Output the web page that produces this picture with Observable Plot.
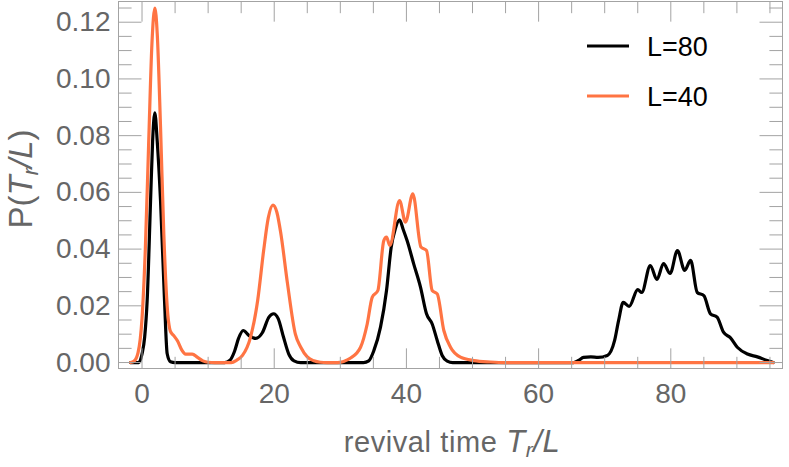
<!DOCTYPE html>
<html><head><meta charset="utf-8">
<script src="https://cdn.jsdelivr.net/npm/d3@7"></script>
<script src="https://cdn.jsdelivr.net/npm/@observablehq/plot@0.6"></script>
<style>body{margin:0;background:#fff;}</style>
</head><body><div id="chart"></div>
<script>
// ---- data ----
const seriesNames = ["L=80", "L=40"];
const seriesColors = ["#000000", "#ff7443"];

const x80 = [-1.75, -0.5, 0, 0.4, 0.78, 1.29, 1.6, 1.94, 2.3, 2.8, 3.4, 3.8, 4.3, 5,
  12.5, 13.3, 14, 14.6, 15.3, 16.2, 17.2, 18.2, 19.2, 19.9, 20.6, 21.4, 22.2, 23, 24,
  33.5, 34.3, 35.07, 36.08, 36.99, 37.7, 38.3, 38.96, 39.5, 40.1, 41.1, 42.13, 43.04, 43.9, 44.66, 45.41, 46.17, 47,
  65.3, 66.1, 66.8, 67.9, 69, 70.4, 71.5, 72.1, 72.8, 73.7, 75, 75.6, 76.9, 77.9, 78.9, 79.9, 81, 82.1, 83, 84, 85, 86, 87, 88, 89, 90.1, 91.6, 93.1, 94.6, 95.5];
const p80 = [0, 0, 0.003, 0.009, 0.022, 0.057, 0.078, 0.088, 0.078, 0.057, 0.022, 0.0032, 0.0003, 0,
  0, 0.0008, 0.004, 0.0085, 0.0113, 0.0095, 0.0085, 0.0105, 0.016, 0.0172, 0.0155, 0.009, 0.003, 0.0006, 0,
  0, 0.0006, 0.0042, 0.0125, 0.0254, 0.0407, 0.047, 0.0503, 0.047, 0.043, 0.0348, 0.0266, 0.0172, 0.0136, 0.0078, 0.0025, 0.0005, 0,
  0, 0.0008, 0.0018, 0.002, 0.0018, 0.0025, 0.0078, 0.0148, 0.0212, 0.0198, 0.0257, 0.0247, 0.0342, 0.0293, 0.0349, 0.0314, 0.0395, 0.0325, 0.036, 0.0247, 0.0236, 0.0172, 0.016, 0.0106, 0.0088, 0.0053, 0.003, 0.002, 0.0007, 0];

const x40 = [-1.75, -1.2, -0.6, 0, 0.5, 1.0, 1.5, 1.94, 2.3, 2.8, 3.3, 3.8, 4.3, 4.8, 5.4, 6, 6.6, 7.6, 8.4, 9.2, 10, 11,
  13.5, 14.3, 15.2, 16.4, 17.5, 18.4, 19.1, 19.8, 20.4, 21, 22, 23.2, 24, 25, 26, 27, 28,
  29.5, 30.5, 31.5, 33.06, 34.07, 34.82, 35.68, 36.58, 36.99, 37.49, 38.96, 39.86, 40.97, 42.2, 43.04, 43.9, 44.66, 45.66, 46.67, 48.18, 50.2, 52.7, 55, 95.5];
const p40 = [0, 0.0005, 0.0035, 0.0156, 0.040, 0.077, 0.1125, 0.125, 0.116, 0.083, 0.045, 0.02, 0.011, 0.0095, 0.0075, 0.0045, 0.003, 0.003, 0.0018, 0.0006, 0.0001, 0,
  0, 0.0008, 0.0025, 0.0088, 0.022, 0.0395, 0.051, 0.0555, 0.053, 0.0455, 0.028, 0.010, 0.0055, 0.002, 0.0006, 0.0001, 0,
  0, 0.0004, 0.0015, 0.0054, 0.0136, 0.023, 0.0254, 0.043, 0.0442, 0.0413, 0.0571, 0.0495, 0.0595, 0.0407, 0.0395, 0.0254, 0.0242, 0.0113, 0.0054, 0.0019, 0.0007, 0.0002, 0, 0];

const xTicks = [0, 20, 40, 60, 80];
const yTicks = [0, 0.02, 0.04, 0.06, 0.08, 0.10, 0.12];
const yTickLabels = ["0.00", "0.02", "0.04", "0.06", "0.08", "0.10", "0.12"];
const xMinor = d3.range(0, 96, 5);
const yMinor = d3.range(0, 0.1251, 0.005).map(v => +v.toFixed(3));

// ---- build ----
const d80 = x80.map((x, i) => ({x, p: p80[i], s: seriesNames[0]}));
const d40 = x40.map((x, i) => ({x, p: p40[i], s: seriesNames[1]}));

const frameColor = "#a3a3a3";
const textColor = "#666666";
const font = "'Liberation Sans', Arial, sans-serif";
const tickShape = {draw(ctx, l) { ctx.moveTo(0, 0); ctx.lineTo(0, -l); }};
const isMajorX = d => xTicks.includes(d);
const isMajorY = d => yTicks.some(t => Math.abs(t - d) < 1e-9);

const tickMarks = [
  Plot.vector(xMinor, {x: d => d, frameAnchor: "bottom", rotate: 0, anchor: "start", length: d => isMajorX(d) ? 7 : 4, shape: tickShape, stroke: frameColor, strokeWidth: 1}),
  Plot.vector(xMinor, {x: d => d, frameAnchor: "top", rotate: 180, anchor: "start", length: d => isMajorX(d) ? 7 : 4, shape: tickShape, stroke: frameColor, strokeWidth: 1}),
  Plot.vector(yMinor, {y: d => d, frameAnchor: "left", rotate: 90, anchor: "start", length: d => isMajorY(d) ? 8 : 4.5, shape: tickShape, stroke: frameColor, strokeWidth: 1}),
  Plot.vector(yMinor, {y: d => d, frameAnchor: "right", rotate: -90, anchor: "start", length: d => isMajorY(d) ? 8 : 4.5, shape: tickShape, stroke: frameColor, strokeWidth: 1})
];

const plot = Plot.plot({
  width: 789,
  height: 467,
  marginLeft: 118,
  marginRight: 7,
  marginTop: 1,
  marginBottom: 99,
  style: {fontFamily: font, background: "#fff"},
  x: {domain: [-3.56, 96.9]},
  y: {domain: [-0.0021, 0.1273]},
  marks: [
    Plot.axisX(xTicks, {tickSize: 0, tickPadding: 15, fontSize: 28, fill: textColor, label: null}),
    Plot.axisY(yTicks, {tickSize: 0, tickPadding: 8, fontSize: 28, fill: textColor, label: null, tickFormat: (d, i) => yTickLabels[i]}),
    Plot.line(d80, {x: "x", y: "p", stroke: seriesColors[0], strokeWidth: 3.2, curve: "monotone-x", clip: true}),
    Plot.line(d40, {x: "x", y: "p", stroke: seriesColors[1], strokeWidth: 3.2, curve: "monotone-x", clip: true}),
    ...tickMarks,
    Plot.frame({stroke: frameColor, strokeWidth: 1})
  ]
});
document.getElementById("chart").appendChild(plot);

// ---- axis labels and legend ----
const svg = d3.select(plot);
const yl = svg.append("text")
  .attr("transform", "translate(32,179) rotate(-90)")
  .attr("text-anchor", "middle")
  .attr("font-size", 33).attr("fill", textColor).attr("font-family", font);
yl.append("tspan").text("P(");
yl.append("tspan").attr("font-style", "italic").text("T");
yl.append("tspan").attr("font-style", "italic").attr("font-size", 22).attr("dy", 6).text("r");
yl.append("tspan").attr("font-style", "italic").attr("dy", -6).text("/L");
yl.append("tspan").text(")");

const xl = svg.append("text")
  .attr("x", 452).attr("y", 452)
  .attr("text-anchor", "middle")
  .attr("letter-spacing", 0.6)
  .attr("font-size", 29).attr("fill", textColor).attr("font-family", font);
xl.append("tspan").text("revival time ");
xl.append("tspan").attr("font-style", "italic").attr("font-size", 31).text("T");
xl.append("tspan").attr("font-style", "italic").attr("font-size", 21).attr("dy", 5).text("r");
xl.append("tspan").attr("font-style", "italic").attr("font-size", 31).attr("dy", -5).text("/L");

const legendY = [46, 96];
seriesNames.forEach((name, i) => {
  svg.append("line").attr("x1", 587).attr("x2", 629).attr("y1", legendY[i]).attr("y2", legendY[i])
    .attr("stroke", seriesColors[i]).attr("stroke-width", 3);
  svg.append("text").attr("x", 647).attr("y", legendY[i] + 9.5)
    .attr("text-anchor", "start")
    .attr("font-size", 27).attr("fill", "#000").attr("font-family", font).text(name);
});
</script>
</body></html>
